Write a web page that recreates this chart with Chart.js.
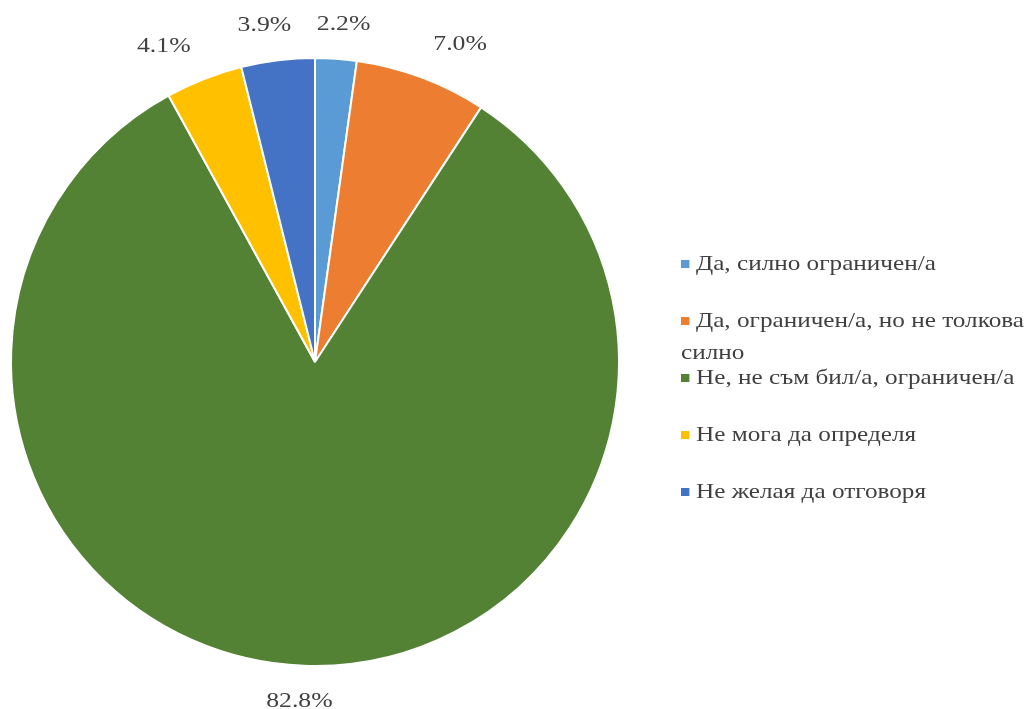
<!DOCTYPE html>
<html>
<head>
<meta charset="utf-8">
<script src="https://cdn.jsdelivr.net/npm/chart.js@4/dist/chart.umd.min.js"></script>
<style>
  html, body { margin: 0; padding: 0; background: #fff; overflow: hidden; }
  #wrap { position: relative; width: 1034px; height: 709px; overflow: hidden; }
  #legend { position: absolute; left: 681px; top: 234px; width: 300px;
    transform: scaleX(1.2); transform-origin: 0 0;
    font-family: "Liberation Serif", "Times New Roman", serif; font-size: 21px; color: #404040; }
  .slot { height: 57px; box-sizing: border-box; padding-top: 12.5px; }
  .item { line-height: 32px; }
  .mark { display: inline-block; width: 6.5px; height: 8px; margin-right: 6px; vertical-align: 2px; }
</style>
</head>
<body>
<div id="wrap">
  <canvas id="pieChart" width="1034" height="709"></canvas>
  <div id="legend"></div>
</div>
<script>
const categories = [
  'Да, силно ограничен/а',
  'Да, ограничен/а, но не толкова силно',
  'Не, не съм бил/а, ограничен/а',
  'Не мога да определя',
  'Не желая да отговоря'
];
const shares = [2.2, 7.0, 82.8, 4.1, 3.9];
const colors = ['#5B9BD5', '#ED7D31', '#548235', '#FFC000', '#4472C4'];

// outside-end labels, placed like Excel does
const outsideLabels = {
  id: 'outsideLabels',
  afterDatasetsDraw(chart) {
    const ctx = chart.ctx;
    const meta = chart.getDatasetMeta(0);
    meta.data.forEach((arc, i) => {
      const p = arc.getProps(['x', 'y', 'startAngle', 'endAngle', 'outerRadius'], true);
      const mid = (p.startAngle + p.endAngle) / 2;
      const c = Math.cos(mid), s = Math.sin(mid);
      const x = p.x + c * p.outerRadius + c * 110;
      const y = p.y + s * p.outerRadius + s * 35;
      ctx.save();
      ctx.font = '22px "Liberation Serif", "Times New Roman", serif';
      ctx.fillStyle = '#404040';
      ctx.textAlign = 'center';
      ctx.textBaseline = 'middle';
      ctx.translate(x, y);
      ctx.scale(1.17, 1);
      ctx.fillText(shares[i].toFixed(1) + '%', 0, 0);
      ctx.restore();
    });
  }
};

const ctx = document.getElementById('pieChart').getContext('2d');
new Chart(ctx, {
  type: 'pie',
  data: {
    labels: categories,
    datasets: [{
      data: shares,
      backgroundColor: colors,
      borderColor: '#ffffff',
      borderWidth: 2
    }]
  },
  options: {
    responsive: false,
    animation: false,
    layout: { padding: { left: 10, top: 57, right: 414, bottom: 42 } },
    plugins: {
      legend: { display: false },
      tooltip: { enabled: false }
    }
  },
  plugins: [outsideLabels]
});

const legend = document.getElementById('legend');
categories.forEach((name, i) => {
  const slot = document.createElement('div');
  slot.className = 'slot';
  const item = document.createElement('div');
  item.className = 'item';
  const mark = document.createElement('span');
  mark.className = 'mark';
  mark.style.background = colors[i];
  item.appendChild(mark);
  item.appendChild(document.createTextNode(name));
  slot.appendChild(item);
  legend.appendChild(slot);
});
</script>
</body>
</html>
